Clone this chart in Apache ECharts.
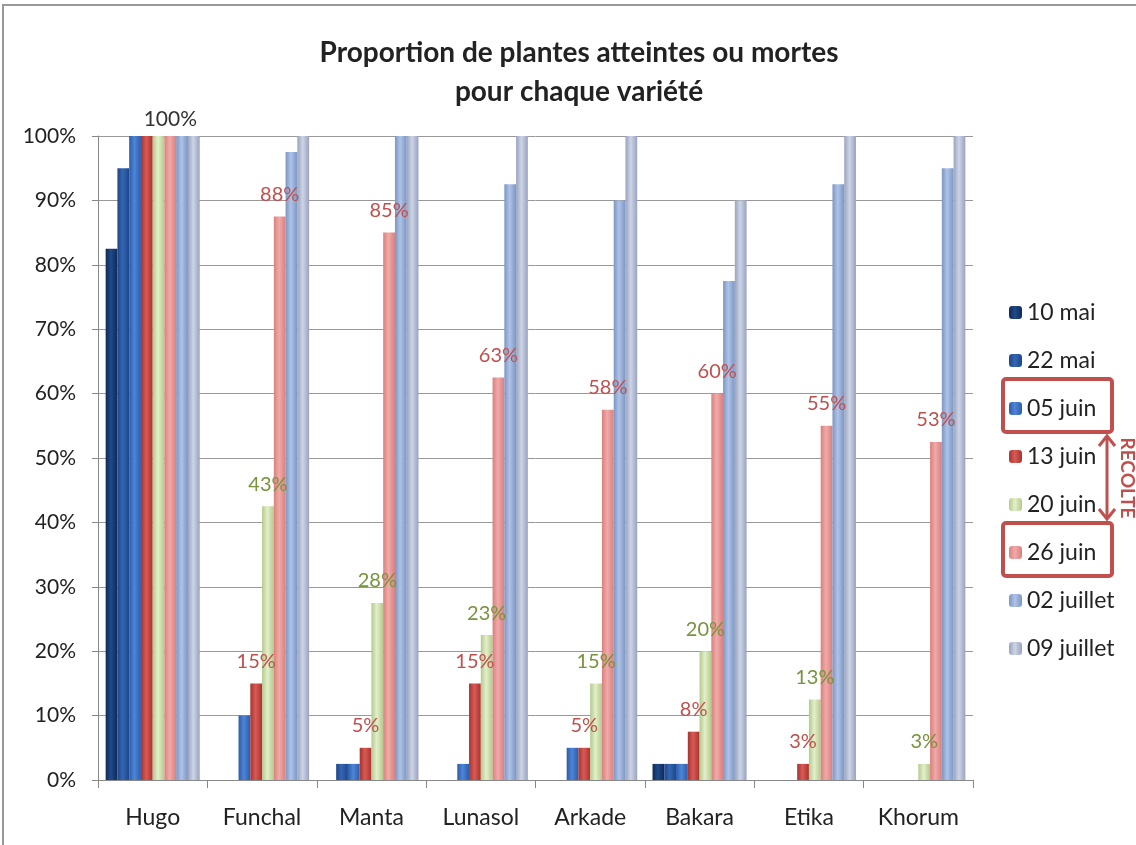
<!DOCTYPE html>
<html><head><meta charset="utf-8">
<script src="https://cdn.jsdelivr.net/npm/echarts@6/dist/echarts.min.js"></script>
<style>html,body{margin:0;padding:0;background:#fff}#c{width:1136px;height:845px}</style>
</head><body><div id="c"></div>
<script>
const categories = ['Hugo','Funchal','Manta','Lunasol','Arkade','Bakara','Etika','Khorum'];
const seriesNames = ['10 mai','22 mai','05 juin','13 juin','20 juin','26 juin','02 juillet','09 juillet'];
const s10mai   = [82.5, 0,   0,    0,    0,   2.5, 0,   0];
const s22mai   = [95,   0,   2.5,  0,    0,   2.5, 0,   0];
const s05juin  = [100,  10,  2.5,  2.5,  5,   2.5, 0,   0];
const s13juin  = [100,  15,  5,    15,   5,   7.5, 2.5, 0];
const s20juin  = [100,  42.5,27.5, 22.5, 15,  20,  12.5,2.5];
const s26juin  = [100,  87.5,85,   62.5, 57.5,60,  55,  52.5];
const s02juil  = [100,  97.5,100,  92.5, 90,  77.5,92.5,95];
const s09juil  = [100,  100, 100,  100,  100, 90,  100, 100];
const yTicks = [0,10,20,30,40,50,60,70,80,90,100];

const values = [s10mai,s22mai,s05juin,s13juin,s20juin,s26juin,s02juil,s09juil];
const colors = [
  ['#0f2a55','#1f4a8a','#0f2a55'],
  ['#1c4688','#3566b4','#1c4688'],
  ['#2a5cac','#4f85d6','#2a5cac'],
  ['#a8332f','#d85a55','#a8332f'],
  ['#b3c98a','#e3efcc','#b3c98a'],
  ['#d9807d','#f0aaa8','#d9807d'],
  ['#7b96c4','#afc3e6','#7b96c4'],
  ['#98a3be','#cdd4e6','#98a3be']
];
const legendColors = ['#1f4a8a','#2d5ea8','#3a6cc0','#c0504d','#c9d9ab','#e49a98','#95aad0','#b3bbd2'];
const labelColor = {3:'#c0504d',4:'#77933c',5:'#c0504d'};

function grad(c){
  return new echarts.graphic.LinearGradient(0,0,1,0,[
    {offset:0,color:c[0]},{offset:0.45,color:c[1]},{offset:1,color:c[2]}]);
}

const series = seriesNames.map((name,si)=>({
  name, type:'bar', barGap:'0%', barCategoryGap:'14%',
  color: legendColors[si],
  itemStyle:{color:grad(colors[si])},
  data: values[si].map((v,ci)=>{
    const item={value:v};
    if(labelColor[si] && v>0){
      if(ci===0){
        if(si===5) item.label={show:true,position:'top',distance:6,color:'#333',fontSize:21,formatter:'100%'};
      } else {
        item.label={show:true,position:'top',distance:12,color:labelColor[si],fontSize:20,
          formatter:p=>Math.round(p.value)+'%'};
      }
    }
    return item;
  })
}));

const chart = echarts.init(document.getElementById('c'));
chart.setOption({
  animation:false,
  textStyle:{fontFamily:'Lato'},
  title:{text:'Proportion de plantes atteintes ou mortes\npour chaque variété',left:574,textAlign:'center',top:28,
    textStyle:{fontFamily:'Lato',fontSize:28,fontWeight:'bold',color:'#222',lineHeight:39}},
  grid:{left:98,right:163,top:136,bottom:65},
  legend:{orient:'vertical',left:1004,top:296,itemWidth:13,itemHeight:13,itemGap:25,
    textStyle:{fontSize:23,color:'#222',fontFamily:'Lato',lineHeight:22},data:seriesNames},
  xAxis:{type:'category',data:categories,
    axisLine:{lineStyle:{color:'#888'}},axisTick:{show:true,length:8,lineStyle:{color:'#888'}},
    axisLabel:{fontSize:23,color:'#222',margin:26,interval:0}},
  yAxis:{type:'value',min:0,max:100,interval:10,
    axisLine:{show:true,lineStyle:{color:'#888'}},axisTick:{show:true,length:6,lineStyle:{color:'#888'}},
    splitLine:{lineStyle:{color:'#999'}},
    axisLabel:{fontSize:21,color:'#222',formatter:'{value}%',margin:22}},
  series,
  graphic:[
    {type:'rect',shape:{x:3,y:5,width:1140,height:845},style:{fill:'none',stroke:'#999',lineWidth:2},silent:true},
    {type:'rect',shape:{x:1003,y:379,width:109,height:53,r:3},style:{fill:'none',stroke:'#c0504d',lineWidth:4}},
    {type:'rect',shape:{x:1003,y:523,width:109,height:53,r:3},style:{fill:'none',stroke:'#c0504d',lineWidth:4}},
    {type:'line',shape:{x1:1107,y1:438,x2:1107,y2:517},style:{stroke:'#c0504d',lineWidth:3}},
    {type:'polyline',shape:{points:[[1099,446],[1107,436],[1115,446]]},style:{fill:'none',stroke:'#c0504d',lineWidth:3}},
    {type:'polyline',shape:{points:[[1099,509],[1107,519],[1115,509]]},style:{fill:'none',stroke:'#c0504d',lineWidth:3}},
    {type:'text',x:1127,y:478,rotation:-Math.PI/2,
      style:{text:'RECOLTE',fill:'#c0504d',fontSize:19,fontWeight:'bold',fontFamily:'Lato',align:'center',verticalAlign:'middle'}}
  ]
});
</script></body></html>
